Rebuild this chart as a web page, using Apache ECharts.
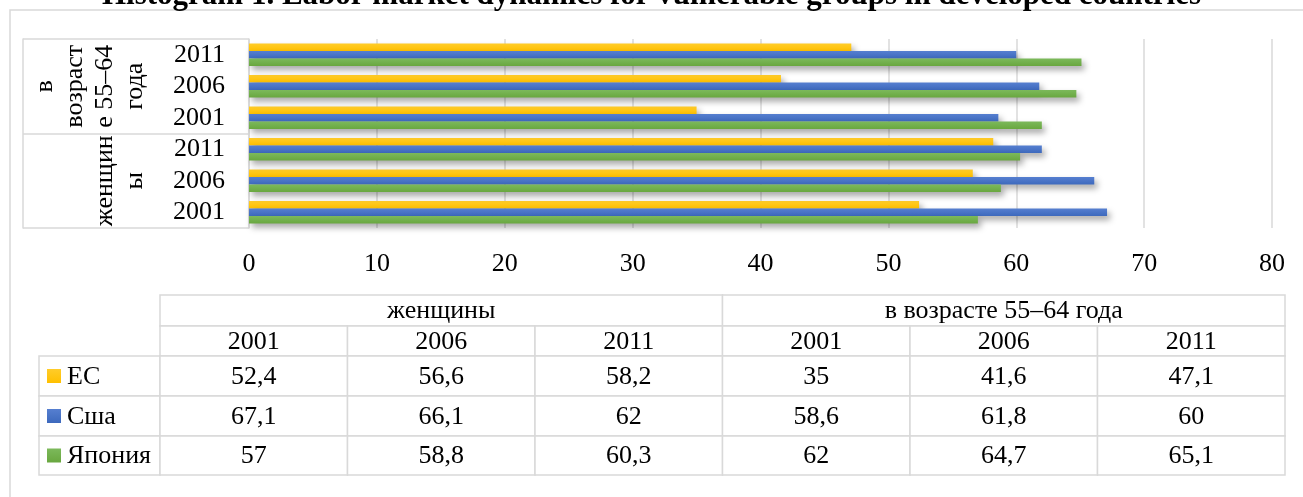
<!DOCTYPE html>
<html>
<head>
<meta charset="utf-8">
<script src="https://cdn.jsdelivr.net/npm/echarts@6.0.0/dist/echarts.min.js"></script>
<style>
  html, body { margin: 0; padding: 0; background: #fff; }
  #chart { width: 1303px; height: 497px; }
</style>
</head>
<body>
<div id="chart"></div>
<script>
const titleText = 'Histogram 1. Labor market dynamics for vulnerable groups in developed countries'
const groups = ['женщины', 'в возрасте 55–64 года']
// how Excel wrapped the rotated group labels
const groupLines = ['женщин\nы', 'в\nвозраст\nе 55–64\nгода']
const years = ['2001', '2006', '2011']
const seriesNames = ['ЕС', 'Сша', 'Япония']
const euValues = [52.4, 56.6, 58.2, 35, 41.6, 47.1]
const usaValues = [67.1, 66.1, 62, 58.6, 61.8, 60]
const japanValues = [57, 58.8, 60.3, 62, 64.7, 65.1]
const xTicks = [0, 10, 20, 30, 40, 50, 60, 70, 80]

const allValues = [euValues, usaValues, japanValues]
const categories = groups.flatMap(g => years.map(y => g + ' ' + y))

const font = 'Liberation Serif, Times New Roman, serif'
const fontSize = 26
const gridColor = '#d9d9d9'
const colors = [
  ['#ffcc2a', '#ffc000'],
  ['#567fd0', '#3d69bd'],
  ['#7cb95b', '#69a73f']
]

const chart = echarts.init(document.getElementById('chart'))

// data table under the chart
const fmt = v => String(v).replace('.', ',')
const tableLeft = 160
const colW = 187.5
const legendLeft = 39
const rowY = [295, 326, 356, 396, 436, 475]
const cellStyle = { fill: '#fff', stroke: gridColor, lineWidth: 1.5 }
const textStyle = (text, x, y, align) => ({
  type: 'text', x, y, z: 10,
  style: { text, font: fontSize + 'px ' + font, fill: '#000', align: align || 'center', verticalAlign: 'middle' }
})

const table = []
groups.forEach((g, gi) => {
  const x = tableLeft + gi * 3 * colW
  table.push({ type: 'rect', shape: { x, y: rowY[0], width: 3 * colW, height: rowY[1] - rowY[0] }, style: cellStyle })
  table.push(textStyle(g, x + 1.5 * colW, (rowY[0] + rowY[1]) / 2 + 1))
  years.forEach((y, yi) => {
    const cx = x + (yi * colW)
    table.push({ type: 'rect', shape: { x: cx, y: rowY[1], width: colW, height: rowY[2] - rowY[1] }, style: cellStyle })
    table.push(textStyle(y, cx + colW / 2, (rowY[1] + rowY[2]) / 2 + 1))
  })
})
allValues.forEach((vals, si) => {
  const y0 = rowY[2 + si], y1 = rowY[3 + si]
  table.push({ type: 'rect', shape: { x: legendLeft, y: y0, width: tableLeft - legendLeft, height: y1 - y0 }, style: cellStyle })
  table.push({
    type: 'rect', z: 10,
    shape: { x: legendLeft + 8, y: (y0 + y1) / 2 - 7, width: 14, height: 14 },
    style: { fill: new echarts.graphic.LinearGradient(0, 0, 0, 1, [{ offset: 0, color: colors[si][0] }, { offset: 1, color: colors[si][1] }]) }
  })
  table.push(textStyle(seriesNames[si], legendLeft + 28, (y0 + y1) / 2 + 1, 'left'))
  vals.forEach((v, ci) => {
    const cx = tableLeft + ci * colW
    table.push({ type: 'rect', shape: { x: cx, y: y0, width: colW, height: y1 - y0 }, style: cellStyle })
    table.push(textStyle(fmt(v), cx + colW / 2, (y0 + y1) / 2 + 1))
  })
})

const option = {
  animation: false,
  title: {
    text: titleText,
    left: 'center',
    top: -25,
    textStyle: { fontFamily: font, fontWeight: 'bold', fontSize: 31, color: '#000' }
  },
  grid: { left: 249, right: 31, top: 39, bottom: 269 },
  xAxis: {
    type: 'value',
    min: xTicks[0],
    max: xTicks[xTicks.length - 1],
    interval: 10,
    axisLine: { show: false },
    axisTick: { show: false },
    axisLabel: { color: '#000', fontFamily: font, fontSize: fontSize, margin: 23 },
    splitLine: { lineStyle: { color: gridColor, width: 1.5 } }
  },
  yAxis: [
    {
      type: 'category',
      data: categories,
      axisLine: { lineStyle: { color: gridColor, width: 1.5 } },
      axisTick: { show: false },
      axisLabel: {
        color: '#000', fontFamily: font, fontSize: fontSize, margin: 24, interval: 0,
        formatter: (v, i) => years[i % years.length]
      }
    },
    {
      type: 'category',
      data: groups,
      position: 'left',
      axisLine: { show: false },
      axisTick: { show: true, length: 226, lineStyle: { color: gridColor, width: 1.5 } },
      axisLabel: {
        color: '#000', fontFamily: font, fontSize: fontSize, lineHeight: 30,
        rotate: 90, margin: 99, interval: 0,
        formatter: (v, i) => groupLines[i]
      }
    },
    {
      type: 'category',
      data: groups,
      position: 'left',
      offset: 226,
      axisLine: { lineStyle: { color: gridColor, width: 1.5 } },
      axisTick: { show: false },
      axisLabel: { show: false }
    }
  ],
  series: allValues.map((vals, si) => ({
    name: seriesNames[si],
    type: 'bar',
    yAxisIndex: 0,
    data: vals,
    barGap: '0%',
    barCategoryGap: '28%',
    itemStyle: {
      color: new echarts.graphic.LinearGradient(0, 0, 0, 1, [
        { offset: 0, color: colors[si][0] },
        { offset: 1, color: colors[si][1] }
      ]),
      shadowColor: 'rgba(0, 0, 0, 0.35)',
      shadowBlur: 6,
      shadowOffsetX: 3,
      shadowOffsetY: 4
    }
  })),
  graphic: [
    {
      type: 'rect',
      shape: { x: 10, y: 10, width: 1320, height: 520 },
      style: { fill: 'none', stroke: gridColor, lineWidth: 1.5 },
      silent: true
    },
    ...table
  ]
}

chart.setOption(option)
</script>
</body>
</html>
